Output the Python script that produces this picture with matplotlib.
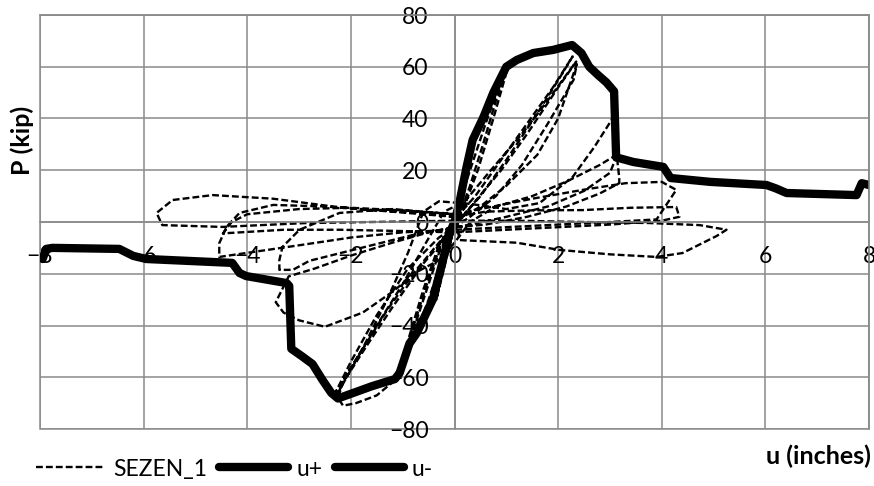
import matplotlib.pyplot as plt
from matplotlib.patches import Rectangle

plt.rcParams['font.family'] = ['Lato', 'DejaVu Sans']

# --- data ---
# SEZEN_1 hysteresis (displacement u in inches, load P in kip)
sezen_u = [
    0, 0.08, 0.16, 0.08, -0.04, -0.12, -0.05, 0.05,
    0.2, 0.35, 0.22, 0.02, -0.18, -0.35, -0.2, 0,
    0.3, 0.56, 0.8, 1.0, 0.8, 0.55, 0.3, 0.1, -0.15, -0.42, -0.73, -1.06, -0.85, -0.55, -0.25, 0,
    0.3, 0.6, 0.9, 1.02, 0.75, 0.45, 0.15, -0.2, -0.5, -0.8, -1.1, -0.9, -0.6, -0.3, 0,
    0.4, 0.9, 1.4, 1.9, 2.28, 2.1, 1.6, 1.0, 0.5, 0.1, -0.3, -0.8, -1.3, -1.8, -2.25, -2.05, -1.5, -1.0, -0.55, -0.2,
    0.2, 0.7, 1.3, 1.8, 2.2, 2.35, 2.0, 1.4, 0.9, 0.4, 0, -0.6, -1.2, -1.7, -2.15, -2.25, -2.15, -1.9, -1.5, -1.2, -0.9, -0.6, -0.3, 0,
    0.5, 1.0, 1.6, 2.0, 2.36, 2.3, 1.8, 1.3, 0.8, 0.3, -0.3, -0.9, -1.5, -2.0, -2.3, -1.8, -1.3, -0.9, -0.6, -0.3,
    0.3, 1.0, 1.64, 2.28, 2.7, 3.05, 3.08, 3.1, 3.1, 3.0, 2.5, 1.8, 1.0, 0.3, -0.5, -1.2, -2.0, -2.7, -3.2, -3.45, -3.3, -3.0, -2.5, -1.77, -1.2, -0.7, -0.29, 0, 0.3,
    0.8, 1.5, 2.2, 2.8, 3.13, 3.18, 3.18, 2.8, 2.16, 1.4, 0.6, 0, -0.8, -1.6, -2.2, -2.8, -3.12, -3.38, -3.38, -3.32, -2.99, -2.22, -1.2, 0,
    0.5, 1.5, 2.5, 3.3, 4.0, 4.28, 4.1, 3.9, 3.0, 2.0, 1.0, 0, -1.0, -2.0, -3.0, -4.02, -4.54, -4.54, -4.4, -4.15, -3.5, -2.5, -1.58, -0.6, 0,
    0.6, 1.5, 2.47, 3.4, 4.28, 4.34, 4.0, 3.0, 2.0, 1.0, 0, -1.0, -2.2, -3.3, -4.47, -4.3, -4.0, -3.0, -2.0, -1.0, 0,
    0.1, 1.2, 2.03, 3.0, 3.9, 4.4, 5.06, 5.25, 4.73, 3.76, 2.5, 1.2, 0, -1.0, -2.86, -4.48, -5.64, -5.75, -5.44, -4.67, -3.5, -2.35, -1.58, -0.62, 0,
]
sezen_p = [
    0, 8, 16, 7, -4, -12, -5, 4,
    19, 30, 17, 0, -16, -30, -16, 0,
    26, 41, 52, 60, 47, 30, 14, 3, -10, -30, -43, -58, -44, -25, -8, 2,
    20, 38, 55, 59, 40, 20, 4, -12, -30, -46, -60, -46, -26, -9, 1,
    10, 24, 38, 52, 64, 58, 42, 24, 10, 1, -8, -20, -34, -50, -66, -58, -40, -24, -8, 4,
    8, 20, 34, 47, 58, 62, 52, 34, 20, 8, -2, -16, -33, -48, -62, -68, -71, -70, -67, -62, -48, -30, -12, 0,
    6, 14, 26, 40, 61, 55, 38, 22, 10, 2, -6, -18, -36, -54, -66, -50, -30, -12, 4, 8,
    7, 5, 7.3, 17.4, 29, 40, 46, 30, 24, 19, 12, 6, 2, -1, -4, -8, -13, -18, -21, -31, -35, -38, -40.5, -35, -27, -19, -14.7, -8, 0,
    6, 10, 16, 22, 26, 17, 15, 11, 6, 2, -1, -2, -5, -9, -12, -15, -18.5, -18.5, -14.7, -9.6, -3, 3.5, 5, 3,
    5, 9, 12.5, 15, 15.5, 12.4, 7, 1, 0, -1, -2, -3, -4, -6, -9, -12, -13.5, -8.2, -1.9, 3.5, 6.6, 6, 4.6, 3, 2,
    4, 4.5, 4.6, 5.5, 5.8, 2, 0.5, -1, -2, -3, -4, -3.5, -3, -3, -4.4, 0, 3, 5, 5.5, 4.5, 3,
    -7, -8, -10.8, -12.5, -13.5, -12, -5.4, -3, -1.2, -0.4, 0, 0.5, 0.5, 0.2, -0.4, -1.9, -1.2, 3.5, 8.5, 10.4, 9, 6, 4.6, 3.5, 2,
]

# envelope, positive direction
up_u = [0, 0.1, 0.23, 0.35, 0.56, 0.75, 1.0, 1.2, 1.52, 1.9, 2.27, 2.45, 2.6, 2.77, 2.93, 3.08,
        3.12, 3.45, 4.03, 4.17, 4.94, 6.02, 6.2, 6.41, 7.76, 7.86, 8.0]
up_p = [0, 8, 21, 31.7, 40.6, 50, 60, 62.6, 65.3, 66.5, 68.4, 65.3, 60, 56.8, 54, 50.5,
        25, 23.2, 21.3, 17, 15.5, 14.3, 13, 11.2, 10.4, 15, 14.3]

# envelope, negative direction
un_u = [0, -0.1, -0.25, -0.42, -0.73, -0.87, -1.06, -1.15, -1.6, -2.25, -2.38, -2.55, -2.74, -2.95, -3.15,
        -3.19, -3.24, -4.02, -4.15, -4.29, -5.95, -6.2, -6.47, -7.76, -7.88, -7.95]
un_p = [0, -4.5, -17, -30, -43, -47, -58.4, -60.7, -63.5, -68.2, -66, -61, -54.9, -51.8, -49,
        -24.7, -23.6, -20.9, -19.7, -15.8, -14.3, -13.1, -10.4, -10, -10.4, -14.3]

x_ticks = list(range(-8, 9, 2))
y_ticks = list(range(-80, 81, 20))

GRID = '#8a8a8a'

fig = plt.figure(figsize=(8.74, 4.86), dpi=100)
ax = fig.add_axes([40 / 874, 1 - 429 / 486, 829 / 874, 414 / 486])

ax.plot(sezen_u, sezen_p, color='black', lw=1.7, linestyle=(0, (2.9, 1.3)), label='SEZEN_1')
ax.plot(up_u, up_p, color='black', lw=6, solid_capstyle='round', solid_joinstyle='round', label='u+')
ax.plot(un_u, un_p, color='black', lw=6, solid_capstyle='round', solid_joinstyle='round', label='u-')

ax.set_xlim(-8, 8)
ax.set_ylim(-80, 80)
ax.set_xticks(x_ticks)
ax.set_yticks(y_ticks)
ax.grid(True, color=GRID, lw=1.1)
ax.set_axisbelow(True)

# axes cross at the origin, Excel style
ax.spines['left'].set_position(('data', 0))
ax.spines['bottom'].set_position(('data', 0))
for s in ax.spines.values():
    s.set_color(GRID)
    s.set_linewidth(1.1)
ax.add_patch(Rectangle((0, 0), 1, 1, transform=ax.transAxes, fill=False,
                       ec=GRID, lw=1.1, clip_on=False, zorder=0.5))

ax.tick_params(axis='both', length=0, labelsize=16.5, colors='black')
ax.tick_params(axis='x', pad=17)
ax.tick_params(axis='y', pad=18.7)

fig.text(22 / 874, 1 - 140 / 486, 'P (kip)', rotation=90, ha='center', va='center',
         fontsize=18, fontweight='bold')
fig.text(871 / 874, 1 - 456 / 486, 'u (inches)', ha='right', va='center',
         fontsize=18, fontweight='bold')

ax.legend(loc='center left', bbox_to_anchor=(36 / 874, 1 - 469 / 486), bbox_transform=fig.transFigure,
          ncol=3, frameon=False, fontsize=16.5, handlelength=3.0, handletextpad=0.35,
          columnspacing=0.55, borderpad=0, borderaxespad=0)

fig.savefig('out.png', dpi=100)
